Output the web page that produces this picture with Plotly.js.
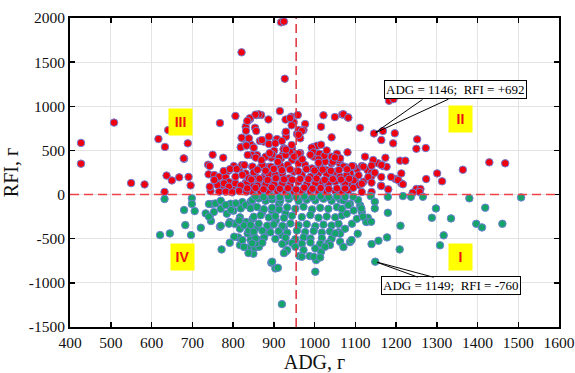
<!DOCTYPE html>
<html>
<head>
<meta charset="utf-8">
<script src="https://cdn.plot.ly/plotly-3.0.1.min.js"></script>
<style>html,body{margin:0;padding:0;background:#fff;}#chart{width:575px;height:373px;}</style>
</head>
<body>
<div id="chart"></div>
<script>
// ---- data ----
// RFI > 0 animals: [ADG, RFI]
const redPoints = [
[427,585],[427,350],[508,815],[550,130],[583,115],[617,630],[633,540],[641,730],[680,405],[689,580],[637,215],[650,160],[668,195],[691,200],[696,104],[632,30],[745,40],
[806,890],[821,1611],[918,1951],[925,1960],[927,1312],[915,946],[837,836],[842,856],[858,901],[869,901],[887,851],[831,768],[832,723],[823,637],[820,542],[832,561],[847,550],[866,607],[875,600],[888,656],[906,619],[929,849],[929,698],[930,656],
[776,417],[750,451],[739,338],[743,323],[740,229],[754,221],[766,202],[782,202],[789,270],[802,323],[816,300],[822,334],[831,240],[847,315],[859,447],[869,315],[879,225],[888,315],[894,417],[901,496],[913,345],[923,458],[912,210],[922,180],[743,89],[761,127],[775,104],[790,142],[804,116],[818,97],[831,135],[847,104],[863,142],[879,104],[896,146],[912,89],[798,82],
[1183,1063],[1194,1082],[1146,692],[1168,720],[1197,694],[1164,618],[1193,580],[1112,757],[1252,626],[1250,519],[1273,527],[1429,365],[1468,354],[1364,281],[1301,240],[1313,150],[1274,176],[1250,63],[1260,63],[1210,384],[1223,384],[1174,417],[1156,354],[1168,323],[1177,315],[1199,176],[1213,127],[1163,100],[1130,278],[1124,429],[1081,478],[1104,289],[1116,323],[1139,244],[1140,210],
[1022,898],[1050,878],[1068,906],[1082,875],[1016,768],[1042,648],[998,538],[1006,553],[1016,565],[1010,447],[1030,447],[1042,429],[1057,417],[1062,354],[1042,354],[1026,372],[998,429],[1014,315],[994,296],[1096,319],[1075,315],[1088,240],[1072,202],[1055,240],[1039,202],[1030,278],[994,202],[1002,146],[1018,127],[1034,108],[1051,146],[1071,135],[1088,97],[1108,108],[1120,146],[1100,183],
[943,882],[959,901],[949,818],[930,712],[957,686],[961,731],[977,799],[973,731],[965,637],[945,524],[925,524],[949,447],[965,470],[918,410],
[863,909],[855,905],[854,757],[857,720],[871,618],[908,629],[944,784],[940,867],[969,720],[961,678],[843,569],[851,531],[888,573],[904,580],[920,607],[944,561],[924,512],[940,482],[961,463],[993,531],[997,478],[1012,463],[1024,440],[1055,463],[1061,391],[1045,372],[1010,399],[846,448],[856,418],[880,429],[896,455],[913,418],[929,448],[945,391],[961,354],[977,335],[848,316],[872,335],[893,316],[917,323],[934,335],[950,259],[888,229],[904,222],[921,240],[855,203],[872,184],[937,184],[969,222],[990,203],[1010,240],[1030,229],[1051,259],[1063,203],[1018,146],[1035,139],[1002,127],[981,116],[961,146],[940,108],[921,127],[901,116],[880,116],[860,101],[844,108],[848,33],[868,33],[888,25],[909,40],[929,33],[950,25],[969,40],[990,33],[1010,33],[1030,25],[1051,40],[1067,33],
[768,810],[841,864],[835,834],[821,644],[839,637],[819,535],[833,554],[679,410],[777,266],[793,289],[809,289],[828,334],[836,448],[762,108],[778,127],[790,90],[806,127],[819,101],[835,139],[766,33],[782,33],[798,25],[815,40],[833,33],[754,165],[806,203],[823,222],[839,184],[851,252],
[1071,909],[1083,871],[1144,391],[1164,335],[1140,327],[1120,316],[1092,323],[1071,316],[1063,410],[1213,240],[1205,165],[1217,116],[1148,248],[1164,199],[1188,199],[1132,199],[1108,218],[1079,218],[1096,161],[1075,123],[1116,123],[1140,135],[1164,97],[1181,59],[1258,29],[1241,21],[1083,48],[1116,29],[1140,29],
[835,70],[855,75],[875,60],[895,80],[915,65],[935,72],[955,58],[975,78],[995,66],[1015,74],[1035,62],[1055,70],[1075,68],[1095,76],
[845,170],[865,180],[885,165],[905,185],[925,172],[945,168],[965,178],[985,175],[1005,182],[1025,166],[1045,174],[1065,170],[1085,180],
[860,280],[880,270],[900,290],[920,275],[940,285],[960,265],[980,288],[1000,272],[1020,282],[1040,268],[1060,278],[1080,286],
[870,390],[890,470],[910,370],[930,510],[950,430],[970,400],[990,450],[1010,360],[1030,500],[1050,420]
];
// RFI < 0 animals: [ADG, RFI]
const greenPoints = [
[632,-50],[699,-43],[699,-106],[680,-175],[706,-187],[749,-106],[621,-459],[645,-440],[683,-346],[697,-459],[721,-376],[743,-251],[746,-300],[768,-365],[772,-621],[792,-546],[817,-572],[813,-485],[838,-600],[850,-670],[854,-600],[894,-772],[904,-836],[920,-1241],[753,-198],[770,-160],[785,-217],[801,-183],[817,-258],[804,-331],[792,-311],[817,-387],[832,-311],[848,-274],[860,-368],[836,-440],[852,-478],[868,-515],[880,-440],[888,-368],[905,-293],[925,-368],[921,-463],[929,-534],[929,-647],[872,-198],[896,-180],[848,-123],[823,-85],[794,-104],[880,-66],[913,-104],[929,-217],[864,-591],[856,-553],
[741,-107],[733,-213],[741,-250],[757,-100],[770,-70],[782,-119],[795,-176],[807,-100],[819,-157],[831,-119],[843,-81],[770,-353],[790,-330],[827,-349],[839,-406],[803,-477],[823,-515],[843,-515],[815,-293],[827,-594],[838,-662],
[847,-62],[863,-45],[880,-70],[896,-55],[916,-68],[937,-50],[961,-72],[981,-58],[1002,-66],[1022,-48],[1042,-70],[1063,-55],
[843,-156],[859,-140],[876,-165],[896,-150],[913,-170],[933,-145],[953,-160],[973,-138],[994,-168],[1014,-150],[1034,-162],[1055,-142],
[851,-251],[868,-235],[888,-260],[904,-245],[925,-265],[945,-240],[969,-255],[990,-232],[1010,-262],[1030,-248],[1051,-258],[1067,-238],
[843,-345],[863,-330],[884,-352],[900,-338],[921,-355],[941,-328],[961,-348],[981,-335],[1002,-358],[1022,-340],[1042,-350],[1059,-332],
[851,-421],[872,-410],[892,-428],[912,-415],[933,-432],[957,-408],[977,-425],[998,-412],[1018,-430],[1038,-418],[1059,-426],
[855,-496],[876,-488],[904,-502],[929,-490],[953,-505],[973,-485],[990,-498],[1018,-492],[1042,-500],
[847,-553],[872,-545],[921,-560],[945,-548],[969,-556],[990,-542],[1014,-558],[1034,-550],
[963,-697],[988,-697],[1004,-742],[933,-629],[925,-663],[896,-761],[910,-829],[1002,-874],[973,-629],[1016,-648],[1038,-572],[1063,-534],[953,-591],
[1138,-17],[1180,-25],[1217,-17],[1237,-25],[1266,-25],[1148,-81],[1180,-206],[1211,-353],[1209,-621],[1140,-561],[1157,-523],[1178,-485],[1149,-760],[1131,-262],[1127,-311],[1106,-443],[1087,-538],[1071,-594],[1063,-443],[1075,-387],[1092,-330],[1104,-274],[1116,-198],[1096,-180],[1079,-217],[1067,-161],[1087,-104],[1112,-123],[1071,-66],
[1380,-43],[1507,-32],[1148,-157],[1298,-157],[1288,-263],[1335,-270],[1419,-149],[1397,-331],[1411,-372],[1461,-331],[1317,-462],[1308,-575],[1139,-308],[1119,-251],[1115,-157],[1107,-62],[1083,-119],[1091,-515],[1051,-440],[1026,-591],[1002,-610],[969,-704],[998,-704],[1014,-712],
[855,-22],[875,-28],[895,-20],[915,-30],[935,-18],[955,-26],[975,-22],[995,-30],[1015,-20],[1035,-28],[1055,-22],[1075,-26],[1095,-24]
];
const meanADG = 955;      // vertical dashed reference line
const zeroRFI = 0;        // horizontal dashed reference line
const xTickVals = [400,500,600,700,800,900,1000,1100,1200,1300,1400,1500,1600];
const yTickVals = [-1500,-1000,-500,0,500,1000,1500,2000];
const yTickText = ['-1500','-1000','-500','0','500','1000','1500','2000'];
const quadrantLabels = ['III','II','IV','I'];
const quadrantADG = [672,1358,675,1358];
const quadrantRFI = [818,856,-712,-705];
const calloutText = ['ADG = 1146;  RFI = +692','ADG = 1149;  RFI = -760'];
const calloutADG = [1146,1149];
const calloutRFI = [692,-760];

// ---- chart ----
const serif = 'Liberation Serif, Times New Roman, serif';
const outline = {color:'#6f7fd6', width:1};
const traces = [
  {type:'scatter', mode:'markers', x:redPoints.map(p=>p[0]), y:redPoints.map(p=>p[1]),
   marker:{color:'#f0000f', size:7.5, line:outline}, hoverinfo:'x+y'},
  {type:'scatter', mode:'markers', x:greenPoints.map(p=>p[0]), y:greenPoints.map(p=>p[1]),
   marker:{color:'#14a46a', size:7.5, line:outline}, hoverinfo:'x+y'}
];

const annotations = [];
quadrantLabels.forEach((t,i)=>{
  annotations.push({x:quadrantADG[i], y:quadrantRFI[i], xref:'x', yref:'y', text:'<b>'+t+'</b>',
    showarrow:false, bgcolor:'#ffff00', borderpad:2, width:19, height:22,
    font:{family:'Liberation Sans, Arial, sans-serif', size:14, color:'#ee1111'}});
});
// callout boxes (positioned relative to their point) and wedge lines
const boxOffsets = [[82,-44],[76,24]];
const wedgeOffsets = [[[50,-35],[76,-35]],[[44,16],[60,16]]];
calloutText.forEach((t,i)=>{
  annotations.push({x:calloutADG[i], y:calloutRFI[i], xref:'x', yref:'y', text:t,
    showarrow:true, arrowcolor:'rgba(0,0,0,0)', arrowwidth:0.1, ax:boxOffsets[i][0], ay:boxOffsets[i][1],
    bgcolor:'#ffffff', bordercolor:'#000', borderwidth:1, borderpad:1,
    font:{family:serif, size:13, color:'#000'}});
  wedgeOffsets[i].forEach(o=>{
    annotations.push({x:calloutADG[i], y:calloutRFI[i], xref:'x', yref:'y', text:'',
      showarrow:true, arrowhead:0, arrowwidth:1, arrowcolor:'#000', ax:o[0], ay:o[1], standoff:2});
  });
});

const shapes = [
  {type:'line', xref:'x', yref:'paper', x0:meanADG, x1:meanADG, y0:0, y1:1,
   line:{color:'#e0303a', width:1.5, dash:'9px,5px'}},
  {type:'line', xref:'paper', yref:'y', x0:0, x1:1, y0:zeroRFI, y1:zeroRFI,
   line:{color:'#f04048', width:1.5, dash:'9px,5px'}}
];

const axisCommon = {
  showline:true, linecolor:'#000', linewidth:2, mirror:'ticks',
  ticks:'inside', ticklen:5, tickwidth:1.5, tickcolor:'#000',
  showgrid:true, gridcolor:'#e4e4e4', gridwidth:1, zeroline:false,
  ticklabeloverflow:'allow',
  tickfont:{family:serif, size:15.5, color:'#111'}
};
const layout = {
  width:575, height:373,
  margin:{l:70, r:16, t:18, b:46},
  paper_bgcolor:'#fff', plot_bgcolor:'#fff',
  showlegend:false,
  xaxis:Object.assign({}, axisCommon, {range:[400,1600], tickvals:xTickVals,
    title:{text:'ADG, г', font:{family:serif, size:20, color:'#111'}, standoff:4}}),
  yaxis:Object.assign({}, axisCommon, {range:[-1500,2000], tickvals:yTickVals, ticktext:yTickText,
    title:{text:'RFI, г', font:{family:serif, size:20, color:'#111'}, standoff:6}}),
  annotations:annotations,
  shapes:shapes
};
Plotly.newPlot('chart', traces, layout, {staticPlot:true, displayModeBar:false});
</script>
</body>
</html>
